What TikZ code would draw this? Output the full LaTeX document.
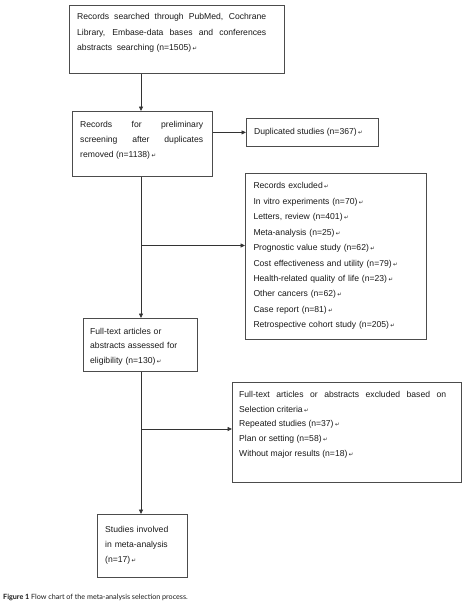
\documentclass[tikz,border=0pt]{standalone}
\usepackage{fontspec}
\setmainfont{Liberation Sans}
\newfontfamily\symfont{DejaVu Sans}
\newfontfamily\capfont{Lato}
\usetikzlibrary{arrows.meta}
\newcommand{\retmark}{\,{\symfont\fontsize{5.5}{5.5}\selectfont ↵}}
\begin{document}
\begin{tikzpicture}[x=1pt,y=-1pt,
  box/.style={draw=black!70, line width=0.8pt, inner sep=0pt, anchor=north west},
  txt/.style={inner sep=0pt, anchor=north west, text=black!90,
    execute at begin node={\hyphenpenalty=10000 \exhyphenpenalty=10000 \tolerance=9999 \parindent=0pt}},
  jtxt/.style={txt, align=justify},
  arr/.style={draw=black!80, line width=0.8pt, -{Triangle[length=4.5pt,width=4pt]}}
]
\useasboundingbox (0,0) rectangle (475,611);
\coordinate (tx) at (141,0);

% boxes
\node[box, minimum width=215pt, minimum height=68pt] (b1) at (69,5) {};
\node[box, minimum width=140pt, minimum height=65pt] (b2) at (72,111) {};
\node[box, minimum width=132pt, minimum height=28pt] (b3) at (246,118) {};
\node[box, minimum width=181pt, minimum height=166pt] (b4) at (245,173) {};
\node[box, minimum width=114pt, minimum height=53pt] (b5) at (83,318) {};
\node[box, minimum width=229pt, minimum height=100pt] (b6) at (232,382) {};
\node[box, minimum width=90pt, minimum height=63pt] (b7) at (97,514) {};

% texts
\node[jtxt, text width=189pt, font=\fontsize{8.6}{15.3}\selectfont] (t1) at (77,13.4)
  {Records searched through PubMed, Cochrane\linebreak Library, Embase-data bases and conferences\linebreak abstracts\ \ searching (n=1505)\retmark};
\node[jtxt, text width=123pt, font=\fontsize{8.6}{14.8}\selectfont] (t2) at (80,121)
  {Records for preliminary\linebreak screening after duplicates\linebreak removed (n=1138)\retmark};
\node[txt, font=\fontsize{8.6}{15}\selectfont] (t3) at (254,128)
  {Duplicated studies (n=367)\retmark};
\node[txt, text width=170pt, font=\fontsize{8.6}{15.45}\selectfont] (t4) at (253.3,182.4)
  {Records excluded\retmark\newline
   In vitro experiments (n=70)\retmark\newline
   Letters, review (n=401)\retmark\newline
   Meta-analysis (n=25)\retmark\newline
   Prognostic value study (n=62)\retmark\newline
   Cost effectiveness and utility (n=79)\retmark\newline
   Health-related quality of life (n=23)\retmark\newline
   Other cancers (n=62)\retmark\newline
   Case report (n=81)\retmark\newline
   Retrospective cohort study (n=205)\retmark};
\node[txt, text width=105pt, font=\fontsize{8.6}{14.7}\selectfont] (t5) at (90,327.7)
  {Full-text articles or\newline abstracts assessed for\newline eligibility (n=130)\retmark};
\node[jtxt, text width=207pt, font=\fontsize{8.6}{14.7}\selectfont] (t6) at (239,391)
  {Full-text articles or abstracts excluded based on\linebreak
   Selection criteria\retmark\newline
   Repeated studies (n=37)\retmark\newline
   Plan or setting (n=58)\retmark\newline
   Without major results (n=18)\retmark};
\node[txt, text width=80pt, font=\fontsize{8.6}{15.2}\selectfont] (t7) at (105,526)
  {Studies involved\newline in meta-analysis\newline (n=17)\retmark};

% connectors
\draw[arr] (tx |- b1.south) -- (tx |- b2.north);
\draw[arr] (b2.east |- b3.west) -- (b3.west);
\draw[arr] (tx |- b2.south) -- (tx |- b5.north);
\coordinate (j1) at (141,245.5);
\draw[arr] (j1) -- (j1 -| b4.west);
\draw[arr] (tx |- b5.south) -- (tx |- b7.north);
\coordinate (j2) at (141,429);
\draw[arr] (j2) -- (j2 -| b6.west);

% caption
\node[inner sep=0pt, anchor=base west, text=black!90] (cap) at (3,599)
  {\capfont\fontsize{7.2}{8}\selectfont\textbf{Figure 1} Flow chart of the meta-analysis selection process.};
\end{tikzpicture}
\end{document}
